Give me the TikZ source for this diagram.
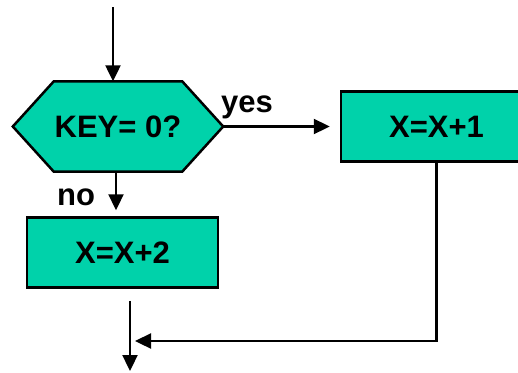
\documentclass[tikz,border=0pt]{standalone}
\usepackage{fontspec}
\setmainfont{Liberation Sans}
\usetikzlibrary{arrows.meta,backgrounds}
\definecolor{boxgreen}{RGB}{0,210,170}

\begin{document}
\begin{tikzpicture}[x=1pt,y=-1pt,
  every node/.style={font=\fontsize{31}{36}\selectfont\bfseries, inner sep=0pt},
  box/.style={draw, line width=2.5pt, fill=boxgreen, minimum width=191pt, minimum height=70pt},
  flow/.style={line width=2.3pt, -{Triangle[length=16pt,width=15pt]}},
  lbl/.style={anchor=base west}]
  \clip (0,0) rectangle (518,372); % page

  % decision
  \node[minimum width=210pt, minimum height=90pt] (test) at (118,126.5) {KEY= 0?};
  \begin{scope}[on background layer]
    \filldraw[fill=boxgreen, line width=2.5pt] (test.west) -- ([xshift=41pt]test.north west)
      -- ([xshift=-41pt]test.north east) -- (test.east)
      -- ([xshift=-41pt]test.south east) -- ([xshift=41pt]test.south west) -- cycle;
  \end{scope}

  \node[box] (inc) at (436.5,126.5) {X=X+1};
  \node[box] (dec) at (122.5,252.5) {X=X+2};

  \node[lbl] (yes) at (221,112) {yes};
  \node[lbl] (no) at (57,205) {no};

  \coordinate (start) at (113,7);
  \coordinate (join) at (130,341);
  \coordinate (exit) at (130,371);

  \draw[flow] (start) -- (start |- test.north); % entry
  \draw[flow] (test.east) -- ([xshift=-10pt]inc.west); % yes branch
  \draw[flow] ([xshift=-2pt]test.south) -- ([xshift=-2pt,yshift=6pt]test.south |- dec.north); % no branch
  \draw[flow] ([yshift=-12pt]dec.south -| exit) -- (exit); % exit
  \draw[flow] (inc.south) |- ([xshift=5pt]join); % back to exit
\end{tikzpicture}
\end{document}
